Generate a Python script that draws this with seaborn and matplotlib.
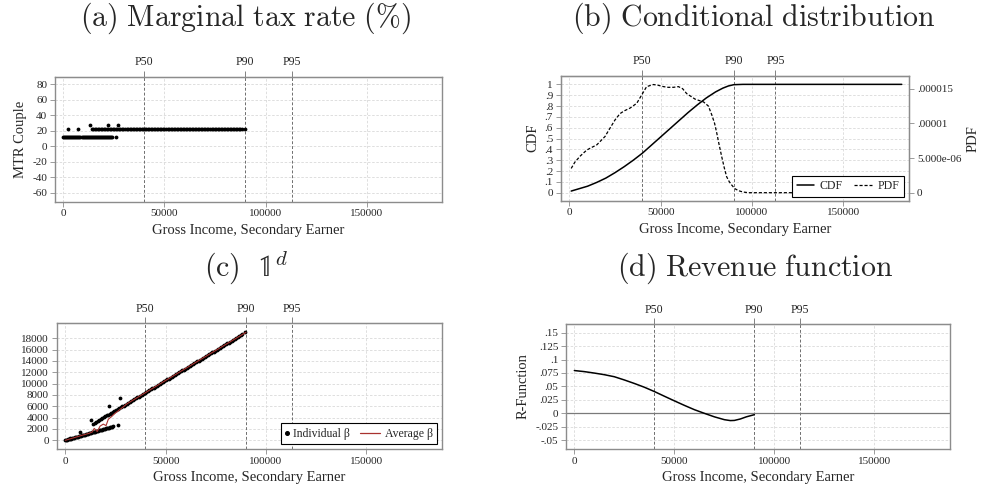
import matplotlib
matplotlib.use("Agg")
import matplotlib.pyplot as plt
from matplotlib.lines import Line2D
from matplotlib.legend_handler import HandlerBase
import seaborn as sns
import pandas as pd

# ---------------- data ----------------
pct_x = [39900, 89900, 112800]
pct_labels = ["P50", "P90", "P95"]

# individuals in the low (12%) bracket: income, MTR (a) and beta (c)
inc_lo = [0, 500, 1000, 1500, 2000, 2500, 3000, 3500, 4000, 4500, 5000, 5500, 6000, 6500,
          7000, 7500, 8000, 8500, 9000, 9500, 10000, 10500, 11000, 11500, 12000, 12500,
          13000, 13500, 14000, 14500, 15000, 15500, 16000, 16500, 17000, 17500, 18000,
          18500, 19000, 19500, 20000, 20500, 21000, 21500, 22000, 22500, 23000, 23500,
          24000, 26000]
beta_lo = [0, 51, 102, 153, 204, 255, 306, 357, 408, 459, 510, 561, 612, 663,
           714, 765, 816, 867, 918, 969, 1020, 1071, 1122, 1173, 1224, 1275,
           1326, 1377, 1428, 1479, 1530, 1581, 1632, 1683, 1734, 1785, 1836,
           1887, 1938, 1989, 2040, 2091, 2142, 2193, 2244, 2295, 2346, 2397,
           2448, 2700]
mtr_band_lo = 12

# individuals in the high (22%) bracket
inc_hi = [14000, 14750, 15500, 16250, 17000, 17750, 18500, 19250, 20000, 20750, 21500,
          22250, 23000, 23750, 24500, 25250, 26000, 26750, 27500, 28250, 29000, 29750,
          30500, 31250, 32000, 32750, 33500, 34250, 35000, 35750, 36500, 37250, 38000,
          38750, 39500, 40250, 41000, 41750, 42500, 43250, 44000, 44750, 45500, 46250,
          47000, 47750, 48500, 49250, 50000, 50750, 51500, 52250, 53000, 53750, 54500,
          55250, 56000, 56750, 57500, 58250, 59000, 59750, 60500, 61250, 62000, 62750,
          63500, 64250, 65000, 65750, 66500, 67250, 68000, 68750, 69500, 70250, 71000,
          71750, 72500, 73250, 74000, 74750, 75500, 76250, 77000, 77750, 78500, 79250,
          80000, 80750, 81500, 82250, 83000, 83750, 84500, 85250, 86000, 86750, 87500,
          88250, 89700]
beta_hi = [2960, 3119, 3278, 3437, 3595, 3754, 3913, 4072, 4231, 4390, 4549,
           4707, 4866, 5025, 5184, 5343, 5502, 5661, 5819, 5978, 6137, 6296,
           6455, 6614, 6773, 6931, 7090, 7249, 7408, 7567, 7726, 7885, 8043,
           8202, 8361, 8520, 8679, 8838, 8997, 9155, 9314, 9473, 9632, 9791,
           9950, 10109, 10267, 10426, 10585, 10744, 10903, 11062, 11220, 11379, 11538,
           11697, 11856, 12015, 12173, 12332, 12491, 12650, 12809, 12968, 13127, 13285,
           13444, 13603, 13762, 13921, 14080, 14239, 14397, 14556, 14715, 14874, 15033,
           15192, 15350, 15509, 15668, 15827, 15986, 16145, 16303, 16462, 16621, 16780,
           16939, 17098, 17257, 17415, 17574, 17733, 17892, 18051, 18210, 18369, 18527,
           18686, 19050]
mtr_band_hi = 22

# isolated individuals
inc_out = [2100, 7100, 13000, 21900, 27000]
mtr_out = [22, 22, 27, 27, 27]
beta_out = [470, 1500, 3600, 6060, 7530]

# (c) average beta
avg_x = [0, 4000, 8000, 12000, 13500, 14400, 15900, 17300, 18900, 20300, 21400, 23100,
         24700, 26400, 28900, 30500, 60000, 90000]
avg_beta = [0, 420, 850, 1250, 1500, 2100, 1550, 2500, 2850, 2600, 3700, 4200,
            4750, 5200, 5900, 6400, 12700, 19050]

# (b) conditional distribution
cdf_x = [1000, 5000, 10000, 15000, 20000, 25000, 30000, 35000, 40000, 45000, 50000, 55000,
         60000, 65000, 70000, 75000, 80000, 84000, 87000, 90000, 95000, 182000]
cdf_y = [0.015, 0.035, 0.06, 0.095, 0.135, 0.185, 0.24, 0.30, 0.365, 0.44, 0.515, 0.59,
         0.665, 0.74, 0.81, 0.875, 0.93, 0.965, 0.985, 0.997, 1.0, 1.0]
pdf_x = [1000, 3000, 6000, 9500, 12000, 15000, 19500, 22000, 25000, 27700, 30000, 33200,
         36900, 39600, 42300, 46000, 48500, 51500, 54000, 57000, 59700, 62000, 64200, 66500,
         68800, 71000, 73400, 76100, 78000, 79500, 80700, 82000, 83400, 84800, 86100, 87500,
         88900, 90500, 92500, 95000, 98000, 102000, 182000]
pdf_y = [3.5e-6, 4.4e-6, 5.3e-6, 6.15e-6, 6.5e-6, 6.9e-6, 8.1e-6, 9.2e-6, 10.5e-6, 11.4e-6,
         11.8e-6, 12.2e-6, 12.9e-6, 14.1e-6, 15.3e-6, 15.6e-6, 15.5e-6, 15.3e-6, 15.2e-6,
         15.2e-6, 15.3e-6, 15.0e-6, 14.3e-6, 13.9e-6, 13.5e-6, 13.3e-6, 13.1e-6, 12.5e-6,
         11.2e-6, 10.0e-6, 8.6e-6, 6.9e-6, 5.2e-6, 3.6e-6, 2.3e-6, 1.6e-6, 1.1e-6, 0.6e-6,
         0.3e-6, 0.1e-6, 0.0, 0.0, 0.0]

# (d) revenue function
r_x = [0, 5000, 10000, 15000, 20000, 25000, 30000, 35000, 40000, 45000, 50000, 55000,
       60000, 65000, 70000, 75000, 78000, 80000, 83000, 86000, 90000]
r_y = [0.0795, 0.0775, 0.0748, 0.0718, 0.068, 0.062, 0.0555, 0.0485, 0.0405, 0.0318,
       0.0232, 0.0148, 0.0068, 0.0, -0.0065, -0.0118, -0.0135, -0.0132, -0.0105, -0.0065,
       -0.0025]

# ---------------- style ----------------
sns.set_style("white")
plt.rcParams["font.family"] = ["Liberation Serif", "DejaVu Serif"]
plt.rcParams["mathtext.fontset"] = "cm"

TICK_FS = 8.0
PCT_FS = 8.6
LAB_FS = 10.5
LEG_FS = 8.5
GRID_C = "#d9d9d9"
SPINE_C = "#8c8c8c"
PCT_C = "#6e6e6e"
RED = "#a8322f"
DOT_S = 7.5

fig = plt.figure(figsize=(9.83, 4.93), dpi=100)
W, H = 983, 493


def px_axes(l, t, r, b):
    return fig.add_axes([l / W, 1 - b / H, (r - l) / W, (b - t) / H])


def style_axes(ax, xlim, ylim, yticks, yticklabels):
    ax.set_xlim(*xlim)
    ax.set_ylim(*ylim)
    ax.set_xticks([0, 50000, 100000, 150000])
    ax.set_xticklabels(["0", "50000", "100000", "150000"])
    ax.set_yticks(yticks)
    ax.set_yticklabels(yticklabels)
    ax.tick_params(axis="both", labelsize=TICK_FS, length=3.5, width=0.6,
                   color=SPINE_C, pad=2, direction="out")
    ax.tick_params(axis="y", left=True)
    ax.tick_params(axis="x", bottom=True)
    for s in ax.spines.values():
        s.set_color(SPINE_C)
        s.set_linewidth(1.0)
    ax.grid(True, color=GRID_C, linestyle=(0, (3, 2)), linewidth=0.6)
    ax.set_axisbelow(True)
    for p in pct_x:
        ax.axvline(p, color=PCT_C, linestyle=(0, (3, 2)), linewidth=0.7, zorder=1.5)
    top = ax.secondary_xaxis("top")
    top.set_xticks(pct_x)
    top.set_xticklabels(pct_labels)
    top.tick_params(labelsize=PCT_FS, length=4.5, width=0.6, color=PCT_C, pad=1.5)
    top.spines["top"].set_color(SPINE_C)
    ax.set_xlabel("Gross Income, Secondary Earner", fontsize=LAB_FS, labelpad=4)


class LongLine(HandlerBase):
    """Legend line handle that extends to the left of its (short) handle box."""
    def __init__(self, length_em=1.9, **kw):
        super().__init__(**kw)
        self.length_em = length_em

    def create_artists(self, legend, orig_handle, xdescent, ydescent, width, height,
                       fontsize, trans):
        y = height / 2 - ydescent
        x1 = width - xdescent
        x0 = x1 - self.length_em * fontsize
        ln = Line2D([x0, x1], [y, y], color=orig_handle.get_color(),
                    lw=orig_handle.get_linewidth(), linestyle=orig_handle.get_linestyle())
        ln.set_transform(trans)
        return [ln]


# ---------- (a) ----------
ax_a = px_axes(55, 76.7, 442.3, 201.7)
df_a = pd.concat([
    pd.DataFrame({"income": inc_lo, "mtr": mtr_band_lo}),
    pd.DataFrame({"income": inc_hi, "mtr": mtr_band_hi}),
    pd.DataFrame({"income": inc_out, "mtr": mtr_out}),
], ignore_index=True)
sns.scatterplot(data=df_a, x="income", y="mtr", ax=ax_a, color="black",
                s=DOT_S, linewidth=0, zorder=3)
style_axes(ax_a, (-4100, 187300), (-71.4, 89.9),
           [-60, -40, -20, 0, 20, 40, 60, 80],
           ["-60", "-40", "-20", "0", "20", "40", "60", "80"])
ax_a.set_ylabel("MTR Couple", fontsize=LAB_FS, labelpad=4)

# ---------- (b) ----------
ax_b = px_axes(560.7, 75.7, 909.3, 200.7)
df_cdf = pd.DataFrame({"income": cdf_x, "CDF": cdf_y})
sns.lineplot(data=df_cdf, x="income", y="CDF", ax=ax_b, color="black",
             linewidth=1.1, sort=False, estimator=None, zorder=3)
style_axes(ax_b, (-4745, 186100), (-0.074, 1.08),
           [0, .1, .2, .3, .4, .5, .6, .7, .8, .9, 1],
           ["0", ".1", ".2", ".3", ".4", ".5", ".6", ".7", ".8", ".9", "1"])
ax_b.set_ylabel("CDF", fontsize=LAB_FS, labelpad=4)
ax_b2 = ax_b.twinx()
df_pdf = pd.DataFrame({"income": pdf_x, "PDF": pdf_y})
PDF_LS = (0, (2.5, 1.5))
sns.lineplot(data=df_pdf, x="income", y="PDF", ax=ax_b2, color="black",
             linewidth=0.9, sort=False, estimator=None, linestyle=PDF_LS)
ax_b2.set_ylim(-1.154e-6, 1.6875e-5)
ax_b2.set_xlim(-4745, 186100)
ax_b2.set_yticks([0, 5e-6, 1e-5, 1.5e-5])
ax_b2.set_yticklabels(["0", "5.000e-06", ".00001", ".000015"])
ax_b2.tick_params(axis="y", labelsize=TICK_FS, length=3.5, width=0.6,
                  color=SPINE_C, pad=2, right=True)
for s in ax_b2.spines.values():
    s.set_color(SPINE_C)
ax_b2.set_ylabel("PDF", fontsize=LAB_FS, labelpad=4)
ax_b2.set_xlabel("")
leg_b = ax_b2.legend(handles=[Line2D([], [], color="black", lw=1.1),
                              Line2D([], [], color="black", lw=0.9, linestyle=PDF_LS)],
                     labels=["CDF", "PDF"], ncol=2, loc="lower right",
                     bbox_to_anchor=(0.985, 0.03), borderaxespad=0, fontsize=LEG_FS,
                     fancybox=False, framealpha=1, edgecolor="black",
                     handlelength=1.5, columnspacing=1.0, handletextpad=0.45,
                     borderpad=0.4)
leg_b.get_frame().set_linewidth(0.8)

# ---------- (c) ----------
ax_c = px_axes(56.7, 323.3, 442, 449.3)
df_c = pd.DataFrame({"income": inc_lo + inc_hi + inc_out,
                     "beta": beta_lo + beta_hi + beta_out})
sns.scatterplot(data=df_c, x="income", y="beta", ax=ax_c, color="black",
                s=DOT_S, linewidth=0, zorder=3)
df_avg = pd.DataFrame({"income": avg_x, "beta": avg_beta})
sns.lineplot(data=df_avg, x="income", y="beta", ax=ax_c, color=RED,
             linewidth=0.8, sort=False, estimator=None, zorder=4)
style_axes(ax_c, (-4300, 187700), (-1590, 20650),
           list(range(0, 18001, 2000)),
           [str(v) for v in range(0, 18001, 2000)])
ax_c.set_ylabel("")
h_dot = Line2D([], [], color="black", marker="o", markersize=2.6, linestyle="none")
h_red = Line2D([], [], color=RED, lw=0.9)
leg_c = ax_c.legend(handles=[h_dot, h_red],
                    labels=["Individual β", "Average β"], ncol=2, loc="lower right",
                    bbox_to_anchor=(0.987, 0.04), borderaxespad=0, fontsize=LEG_FS,
                    fancybox=False, framealpha=1, edgecolor="black",
                    handlelength=0.3, columnspacing=2.3, handletextpad=0.35,
                    borderpad=0.38, handler_map={h_red: LongLine(1.75)})
leg_c.get_frame().set_linewidth(0.8)

# ---------- (d) ----------
ax_d = px_axes(566, 324, 950, 449)
ax_d.axhline(0, color="#7a7a7a", linewidth=0.9, zorder=2)
df_r = pd.DataFrame({"income": r_x, "R": r_y})
sns.lineplot(data=df_r, x="income", y="R", ax=ax_d, color="black",
             linewidth=1.1, sort=False, estimator=None, zorder=3)
style_axes(ax_d, (-4170, 187800), (-0.0663, 0.166),
           [-.05, -.025, 0, .025, .05, .075, .1, .125, .15],
           ["-.05", "-.025", "0", ".025", ".05", ".075", ".1", ".125", ".15"])
ax_d.set_ylabel("R-Function", fontsize=LAB_FS, labelpad=4)

# ---------- titles ----------
TFS = 21.5
fig.text(245 / W, 1 - 26 / H, r"$\mathrm{(a)\ Marginal\ tax\ rate\ (\%)}$",
         ha="center", va="baseline", fontsize=TFS)
fig.text(754 / W, 1 - 26 / H, r"$\mathrm{(b)\ Conditional\ distribution}$",
         ha="center", va="baseline", fontsize=TFS)
fig.text(246 / W, 1 - 276 / H, r"$\mathrm{(c)}\ \ \mathbb{1}^d$",
         ha="center", va="baseline", fontsize=TFS)
fig.text(755 / W, 1 - 276 / H, r"$\mathrm{(d)\ Revenue\ function}$",
         ha="center", va="baseline", fontsize=TFS)

fig.savefig("out.png", dpi=100, facecolor="white")
